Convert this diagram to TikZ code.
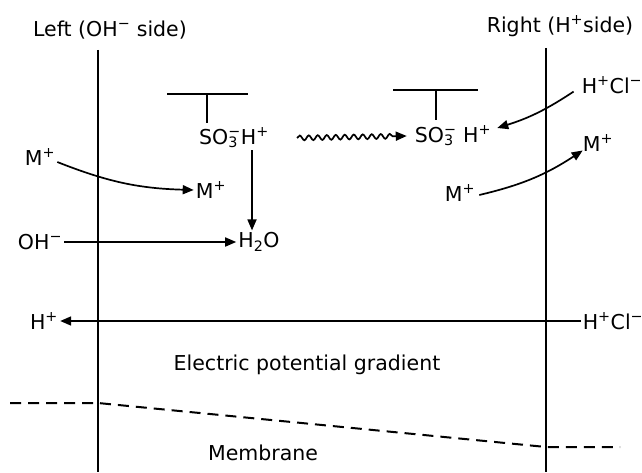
\documentclass[tikz,border=0pt]{standalone}
\usepackage{fontspec}
\setmainfont{DejaVu Sans}
\usepackage{tikz}
\usetikzlibrary{positioning, arrows.meta, calc, decorations.pathmorphing}
\newcommand{\up}[1]{\textsuperscript{#1}}
\newcommand{\mns}{\textsuperscript{\char"2212}}

\begin{document}
\begin{tikzpicture}[x=1pt, y=1pt,
  ion/.style={inner sep=2pt, font=\fontsize{20.5}{24}\selectfont},
  wall/.style={line width=2.4pt},
  bar/.style={line width=2pt},
  flow/.style={-{Triangle[length=11pt, width=9pt]}, line width=1.7pt},
  wave/.style={flow, decorate, decoration={snake, amplitude=2.4pt,
    segment length=9pt, post length=11pt}},
  level/.style={line width=2pt, dash pattern=on 11pt off 7pt},
]
  \useasboundingbox (0,0) rectangle (642,472);

  % Membrane walls
  \draw[wall] (98,422) -- (98,0);
  \draw[wall] (546,424) -- (546,0);

  % Side labels
  \node[ion] (left) at (110,442) {Left (OH\mns\ side)};
  \node[ion] (right) at (560,446) {Right (H\up{+}side)};

  % Fixed sulfonate groups
  \draw[bar] (167,378) -- (248,378);
  \draw[bar] (207,378) -- (207,349);
  \node[ion] (sol) at (234,334) {SO\rlap{\textsubscript{3}}\mns H\up{+}};
  \draw[bar] (393,382) -- (478,382);
  \draw[bar] (436,382) -- (436,352);
  \node[ion] (sor) at (453,336) {SO\rlap{\textsubscript{3}}\mns\ H\up{+}};

  % Left side species
  \node[ion] (mla) at (40,315) {M\up{+}};
  \node[ion] (mlb) at (211,282) {M\up{+}};
  \node[ion] (oh) at (40,230) {OH\mns};
  \node[ion] (h2o) at (259,230) {H\textsubscript{2}O};
  \node[ion] (hp) at (44,151) {H\up{+}};

  % Right side species
  \node[ion] (hclt) at (612,387) {H\up{+}Cl\mns};
  \node[ion] (mra) at (598,329) {M\up{+}};
  \node[ion] (mrb) at (460,279) {M\up{+}};
  \node[ion] (hclb) at (613,151) {H\up{+}Cl\mns};

  % Texts
  \node[ion] (grad) at (307,107) {Electric potential gradient};
  \node[ion] (memb) at (263,19) {Membrane};

  % Transport arrows
  \draw[flow] ([yshift=-5pt]mla.east) to[bend right=10] (mlb.west);
  \draw[flow] ([xshift=18pt]sol.south) -- ([xshift=-7pt]h2o.north);
  \draw[flow] (oh.east) -- (h2o.west);
  \draw[wave] ([xshift=26pt]sol.east) -- ([xshift=-6pt]sor.west);
  \draw[flow] ([xshift=-6pt, yshift=4pt]hclt.south west) to[bend left=8]
    ([xshift=4pt, yshift=8pt]sor.east);
  \draw[flow] ([xshift=2pt, yshift=-2pt]mrb.east) to[bend right=10]
    ([xshift=2pt, yshift=3pt]mra.south west);
  \draw[flow] (hclb.west) -- (hclb.west -| hp.east);

  % Potential level
  \draw[level] (10,69) -- (98,69) -- (546,25) -- (620,25);
\end{tikzpicture}
\end{document}
